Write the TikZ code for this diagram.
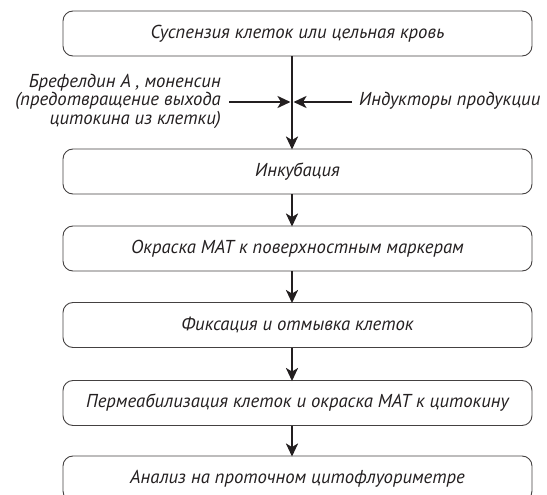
\documentclass[tikz,border=0pt]{standalone}
\usepackage{fontspec}
\newfontfamily\myf{PT Sans}
\usetikzlibrary{arrows.meta}
\definecolor{ink}{HTML}{231F20}
\begin{document}
\begin{tikzpicture}[x=1pt,y=-1pt,
  stepbox/.style={draw=ink!85, line width=0.9pt, rounded corners=10pt,
    minimum width=469pt, minimum height=45pt, inner sep=0pt,
    font=\myf\itshape\fontsize{18.7}{18.5}\selectfont, text=ink},
  sidetext/.style={font=\myf\itshape\fontsize{18.7}{18.5}\selectfont, text=ink, inner sep=0pt},
  arr/.style={draw=ink, line width=2.3pt, -{Stealth[length=13pt,width=12pt,inset=3.5pt]}}
]
\useasboundingbox (0,0) rectangle (547,495);
\node[stepbox] (b1) at (297.5,33.5) {\raisebox{2pt}{Суспензия клеток или цельная кровь}};
\node[stepbox] (b2) at (297.5,171.5) {\raisebox{2pt}{Инкубация}};
\node[stepbox] (b3) at (297.5,248.5) {\raisebox{2pt}{Окраска МАТ к поверхностным маркерам}};
\node[stepbox] (b4) at (297.5,325) {\raisebox{2pt}{Фиксация и отмывка клеток}};
\node[stepbox] (b5) at (297.5,403) {\raisebox{2pt}{Пермеабилизация клеток и окраска МАТ к цитокину}};
\node[stepbox] (b6) at (297.5,478.5) {\raisebox{2pt}{Анализ на проточном цитофлуориметре}};
\coordinate (axis) at (292,0);
\coordinate (j) at (292,102);
\node[sidetext, anchor=east, align=right] (lt) at (221,101) {Брефелдин А , моненсин\\(предотвращение выхода\\цитокина из клетки)};
\node[sidetext, anchor=west] (rt) at (359,101) {Индукторы продукции};
\draw[arr, shorten >=-1pt] (b1.south -| axis) -- (b2.north -| axis);
\draw[arr, shorten >=1.5pt] ([xshift=8pt]lt.east |- j) -- (j);
\draw[arr, shorten >=1.5pt] ([xshift=-7pt]rt.west |- j) -- (j);
\draw[arr, shorten >=-1pt] (b2.south -| axis) -- (b3.north -| axis);
\draw[arr, shorten >=-1pt] (b3.south -| axis) -- (b4.north -| axis);
\draw[arr, shorten >=-1pt] (b4.south -| axis) -- (b5.north -| axis);
\draw[arr, shorten >=-1pt] (b5.south -| axis) -- (b6.north -| axis);
\end{tikzpicture}
\end{document}
